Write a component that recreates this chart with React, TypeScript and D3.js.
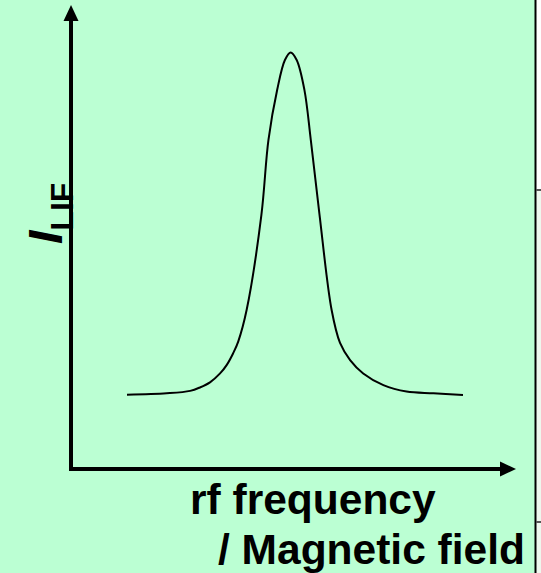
import React from 'react';
import * as d3 from 'd3';

// detuning (arbitrary units) and LIF intensity (% of peak)
const detuning = [0, 11.8, 18.8, 21.7, 24.7, 27.7, 29.7, 31.6, 33.1, 35.6, 40.0, 42.1, 44.7, 47.0, 48.7, 50.5, 52.8, 54.7, 57.3, 60.9, 63.4, 66.4, 70.3, 76.3, 83.2, 91.2, 100];
const intensity = [0.1, 0.5, 1.2, 2.2, 3.7, 6.3, 8.8, 12.2, 15.6, 24.8, 52.6, 74.5, 89.1, 97.8, 100, 97.8, 89.1, 74.5, 52.6, 24.8, 15.2, 10.2, 6.3, 2.9, 1.0, 0.5, 0];

const xTitleLines = ['rf frequency', '/ Magnetic field'];
const yTitleMain = 'I';
const yTitleSub = 'LIF';

const W = 541;
const H = 573;
const BG = '#bbffd3';

export default function App() {
  const origin = { x: 71, y: 469 };
  const axisEnd = { x: 516, y: 5 };

  const xScale = d3.scaleLinear().domain([0, 100]).range([127, 463]);
  const yScale = d3.scaleLinear().domain([0, 100]).range([395, 52.5]);

  const points = detuning.map((d, i) => [d, intensity[i]] as [number, number]);
  const line = d3
    .line<[number, number]>()
    .x(d => xScale(d[0]))
    .y(d => yScale(d[1]))
    .curve(d3.curveCatmullRom.alpha(0.5));

  const font = '"Liberation Sans", Arial, sans-serif';

  return (
    <svg
      width={W}
      height={H}
      style={{ position: 'absolute', left: 0, top: 0, display: 'block' }}
    >
      {/* slide background and the edge of the neighbouring panel */}
      <rect x={0} y={0} width={535} height={H} fill={BG} />
      <rect x={536} y={0} width={W - 536} height={190} fill="#ffffff" />
      <rect x={536} y={190} width={W - 536} height={H - 190} fill="#eef8ee" />
      <line x1={535.5} x2={535.5} y1={0} y2={H} stroke="#000" strokeWidth={2} />
      <line x1={536} x2={W} y1={190} y2={190} stroke="#555" strokeWidth={2} />
      <line x1={536} x2={W} y1={522} y2={522} stroke="#555" strokeWidth={2} />

      {/* axes */}
      <line x1={origin.x} x2={origin.x} y1={origin.y + 2} y2={axisEnd.y + 14} stroke="#000" strokeWidth={4} />
      <path
        d={`M${origin.x},${axisEnd.y} L${origin.x - 7.5},${axisEnd.y + 16} L${origin.x + 7.5},${axisEnd.y + 16} Z`}
        fill="#000"
      />
      <line x1={origin.x - 2} x2={axisEnd.x - 14} y1={origin.y} y2={origin.y} stroke="#000" strokeWidth={4} />
      <path
        d={`M${axisEnd.x},${origin.y} L${axisEnd.x - 16},${origin.y - 7.5} L${axisEnd.x - 16},${origin.y + 7.5} Z`}
        fill="#000"
      />

      {/* resonance curve */}
      <path d={line(points) ?? ''} fill="none" stroke="#000" strokeWidth={2} />

      {/* y title */}
      <text
        transform={`translate(62,244) rotate(-90)`}
        fontFamily={font}
        fontWeight="bold"
        fill="#000"
      >
        <tspan fontSize={48} fontStyle="italic">{yTitleMain}</tspan>
        <tspan fontSize={32} dy={11}>{yTitleSub}</tspan>
      </text>

      {/* x title */}
      <text x={190} y={514} fontFamily={font} fontWeight="bold" fontSize={42.5} fill="#000">
        {xTitleLines[0]}
      </text>
      <text x={218} y={564} fontFamily={font} fontWeight="bold" fontSize={42.5} fill="#000">
        {xTitleLines[1]}
      </text>
    </svg>
  );
}
